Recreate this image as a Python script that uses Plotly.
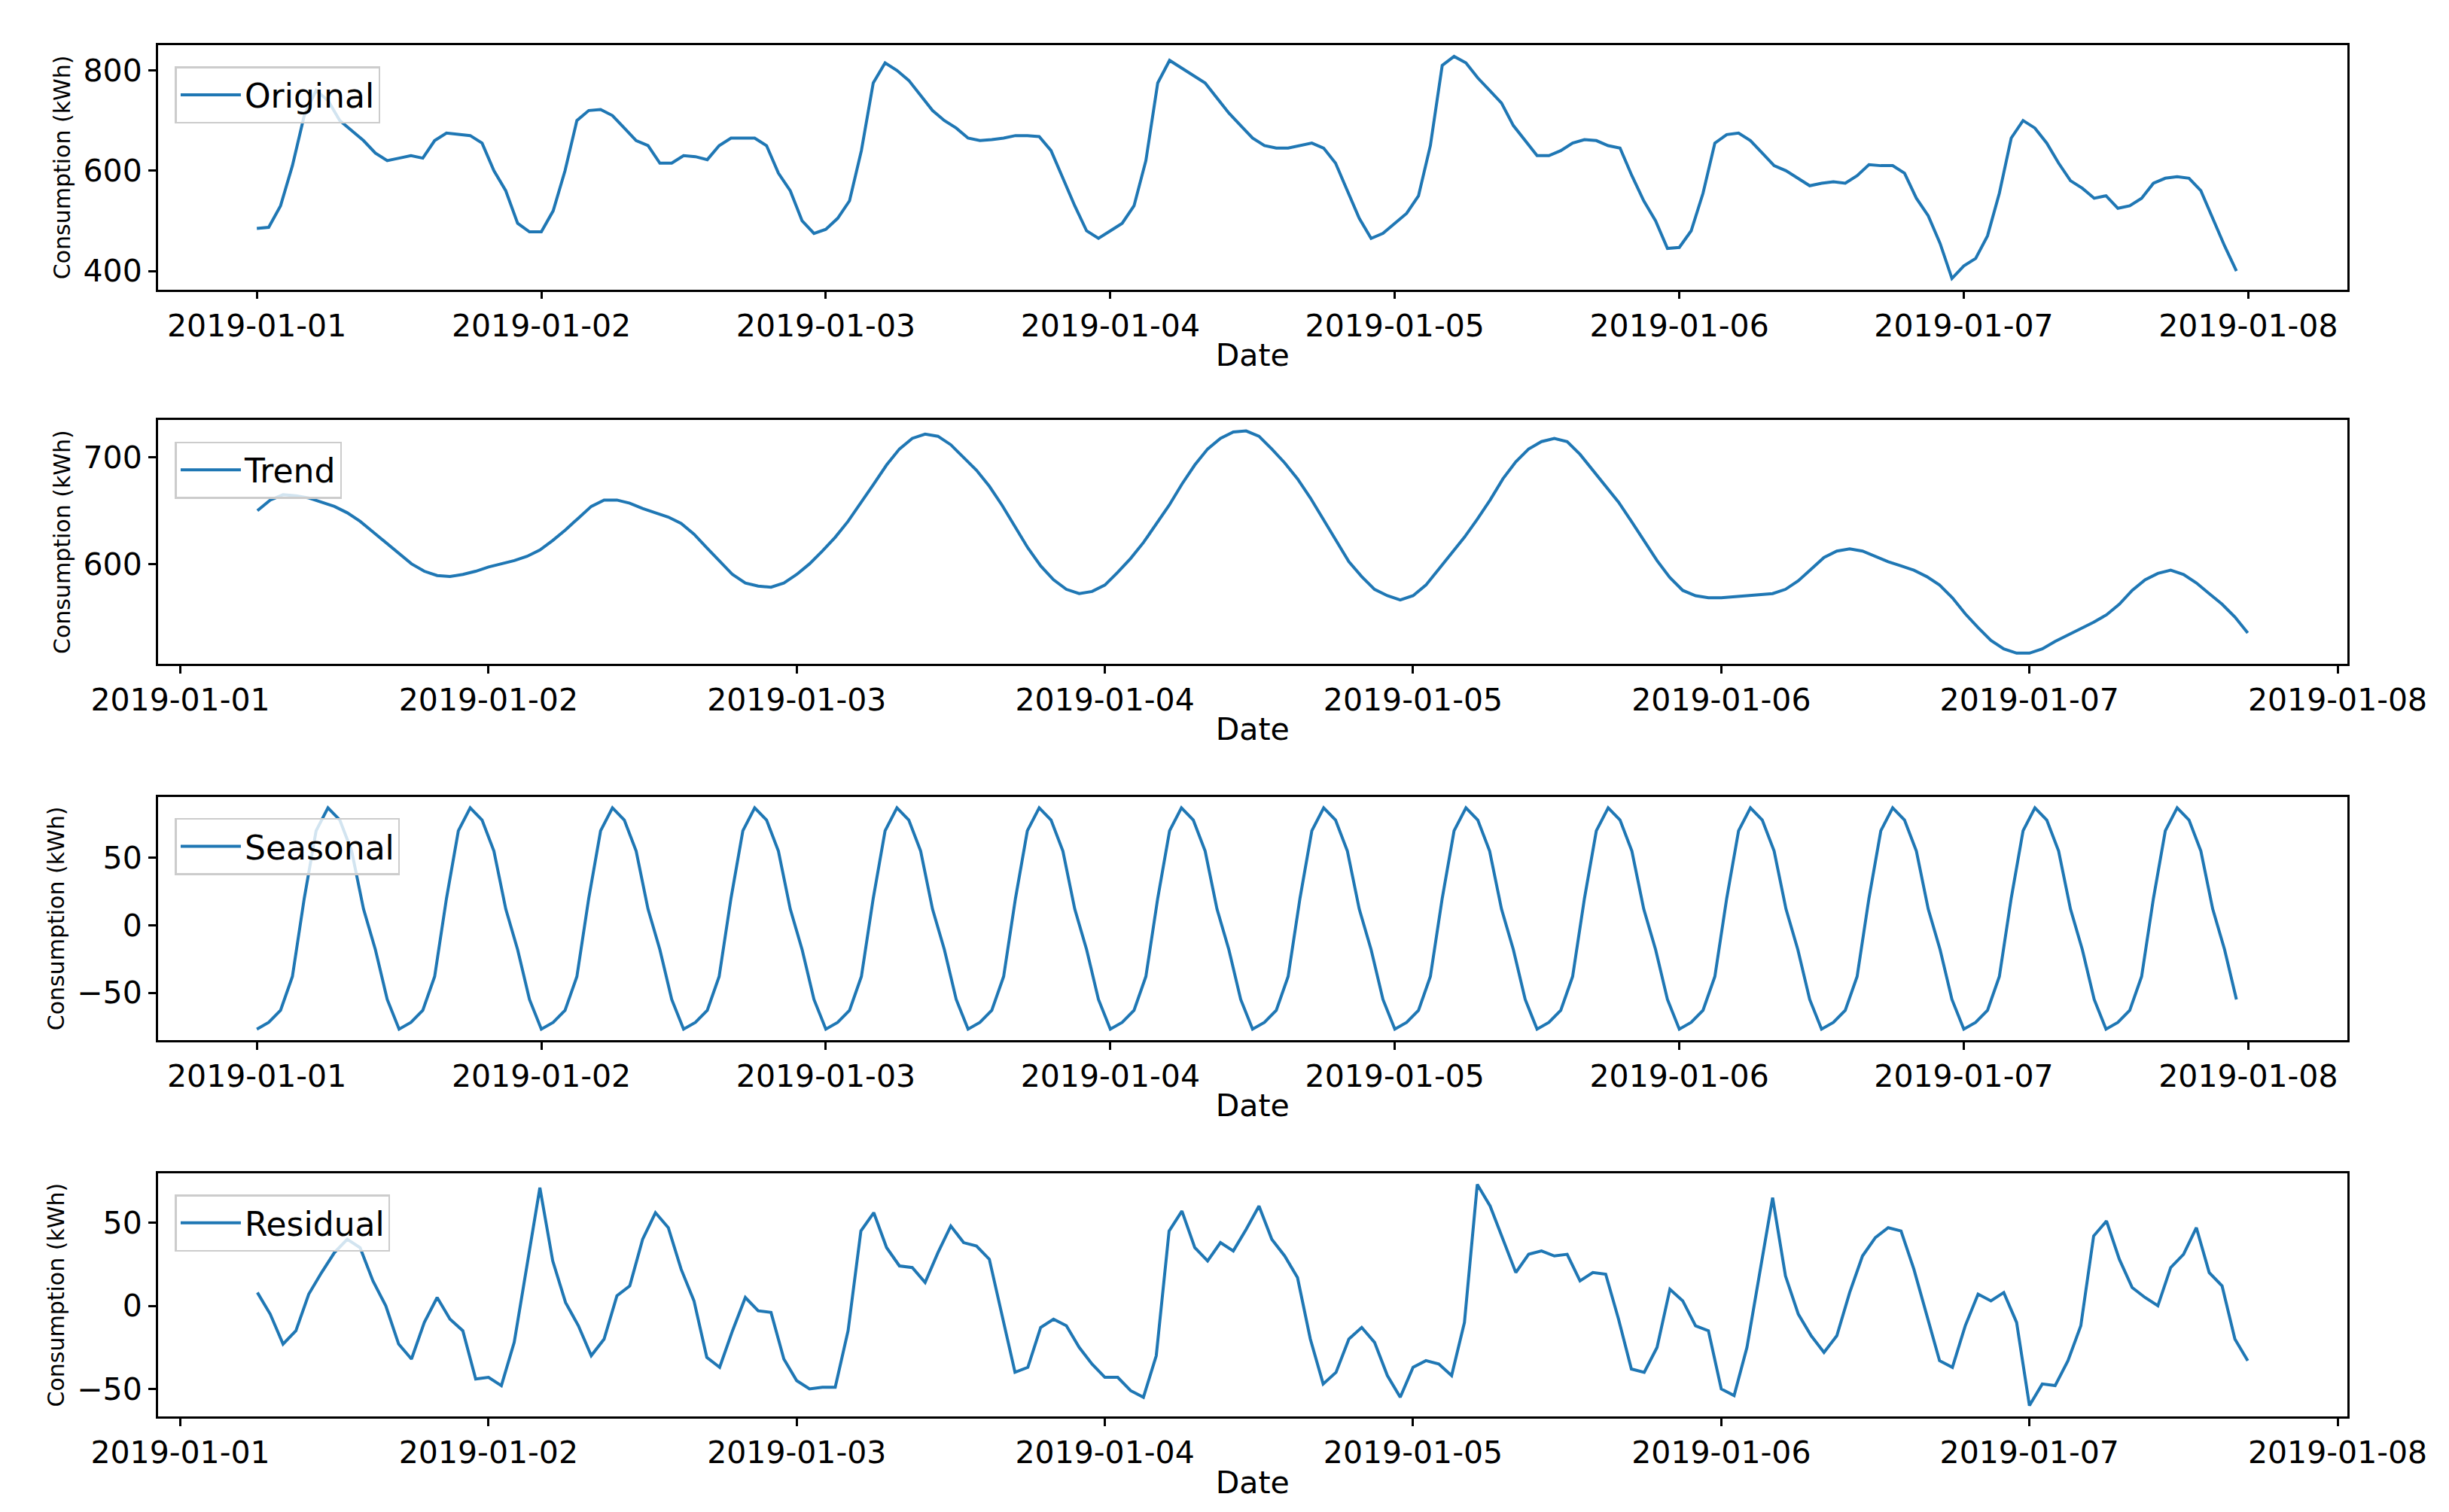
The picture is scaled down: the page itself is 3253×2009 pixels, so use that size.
import pandas as pd
import plotly.graph_objects as go

original = [
 485,487,530,610,710,760,740,700,680,660,635,620,625,630,625,660,675,672,670,655,600,560,495,478,
 478,520,600,700,720,722,710,685,660,650,615,615,630,628,622,650,665,665,665,650,595,560,500,475,
 483,505,540,640,775,815,800,780,750,720,700,685,665,660,662,665,670,670,668,640,585,530,480,465,
 480,495,530,620,775,820,805,790,775,745,715,690,665,650,645,645,650,655,645,615,560,505,465,475,
 495,515,550,650,810,828,815,785,760,735,690,660,630,630,640,655,662,660,650,645,590,540,500,445,
 447,480,555,655,672,675,660,635,610,600,585,570,575,578,575,590,612,610,610,595,545,510,455,385,
 410,425,470,555,665,700,685,655,615,580,565,545,550,525,530,545,575,585,588,585,560,505,450,400]

trend = [
 650,660,665,664,662,658,654,648,640,630,620,610,600,593,589,588,590,593,
 597,600,603,607,613,622,632,643,654,660,660,657,652,648,644,638,628,615,602,590,582,579,578,582,
 590,600,612,625,640,657,675,693,708,718,722,720,712,700,688,673,655,635,615,598,585,576,572,574,
 580,592,605,620,637,655,675,693,708,718,724,725,720,708,695,680,662,642,622,602,588,576,570,566,
 570,580,595,610,625,642,660,680,696,708,715,718,715,703,688,673,658,640,622,603,587,575,570,568,
 568,569,570,571,572,576,584,595,606,612,614,612,607,602,598,594,588,580,568,553,540,528,520,516,
 516,520,527,533,539,545,552,562,575,585,591,594,590,582,572,562,550,535]

seasonal_cycle = [-77,-72,-63,-38,20,70,87,78,55,12,-18,-55]
seasonal = seasonal_cycle * 14

residual = [
 8,-5,-23,-15,7,20,32,40,35,15,0,-23,-32,-10,5,-8,-15,-44,
 -43,-48,-22,25,71,27,2,-12,-30,-20,6,12,40,56,47,22,3,-31,-37,-15,5,-3,-4,-32,
 -45,-50,-49,-49,-15,45,56,35,24,23,14,32,48,38,36,28,-5,-40,-37,-13,-8,-12,-25,-35,
 -43,-43,-51,-55,-30,45,57,35,27,38,33,46,60,40,30,17,-20,-47,-40,-20,-13,-22,-42,-55,
 -37,-33,-35,-42,-10,73,60,40,20,31,33,30,31,15,20,19,-8,-38,-40,-25,10,3,-12,-15,
 -50,-54,-25,20,65,18,-5,-18,-28,-18,8,30,41,47,45,22,-5,-33,-37,-12,7,3,8,-10,
 -60,-47,-48,-33,-12,42,51,28,11,5,0,23,31,47,20,12,-20,-33]

names = ["Original", "Trend", "Seasonal", "Residual"]
dates_full = pd.date_range("2019-01-01 00:00", periods=168, freq="h")
dates_mid = pd.date_range("2019-01-01 06:00", periods=156, freq="h")
series = [(dates_full, original), (dates_mid, trend), (dates_full, seasonal), (dates_mid, residual)]

xranges = [["2018-12-31 15:39", "2019-01-08 08:21"], ["2018-12-31 22:15", "2019-01-08 00:45"],
           ["2018-12-31 15:39", "2019-01-08 08:21"], ["2018-12-31 22:15", "2019-01-08 00:45"]]
yranges = [[363, 850], [506, 735], [-85.2, 95.2], [-66.7, 79.7]]
ytickvals = [[400, 600, 800], [600, 700], [-50, 0, 50], [-50, 0, 50]]
ydomains = [[0.8125, 0.974], [0.565, 0.726], [0.316, 0.477], [0.067, 0.228]]

fig = go.Figure()
layout = dict(width=3253, height=2009, margin=dict(l=0, r=0, t=0, b=0, autoexpand=False),
              plot_bgcolor="white", paper_bgcolor="white", showlegend=True,
              font=dict(family="DejaVu Sans", color="black"))
for i in range(4):
    sfx = "" if i == 0 else str(i + 1)
    leg = "legend" if i == 0 else "legend" + str(i + 1)
    x, y = series[i]
    fig.add_trace(go.Scatter(x=x, y=y, mode="lines", name=names[i], showlegend=True,
                             line=dict(color="#1f77b4", width=4),
                             xaxis="x" + sfx, yaxis="y" + sfx, legend=leg))
    common = dict(showline=True, linecolor="black", linewidth=2.5, mirror=True,
                  ticks="outside", ticklen=10, tickwidth=2.5, tickcolor="black",
                  showgrid=False, zeroline=False, tickfont=dict(size=41), automargin=False)
    layout["xaxis" + sfx] = dict(common, domain=[0.062, 0.956], anchor="y" + sfx,
                                 type="date", range=xranges[i], dtick=86400000,
                                 tick0="2019-01-01", tickformat="%Y-%m-%d",
                                 title=dict(text="Date", font=dict(size=41), standoff=2))
    layout["yaxis" + sfx] = dict(common, domain=ydomains[i], anchor="x" + sfx,
                                 range=yranges[i], tickvals=ytickvals[i],
                                 title=dict(text="Consumption (kWh)", font=dict(size=30), standoff=8))
    layout[leg] = dict(x=0.069, y=ydomains[i][1] - 0.014, xanchor="left", yanchor="top",
                       bgcolor="rgba(255,255,255,0.8)", bordercolor="#cccccc", borderwidth=2.5,
                       font=dict(size=44), itemwidth=80)
fig.update_layout(**layout)
fig.write_html("out.html")
